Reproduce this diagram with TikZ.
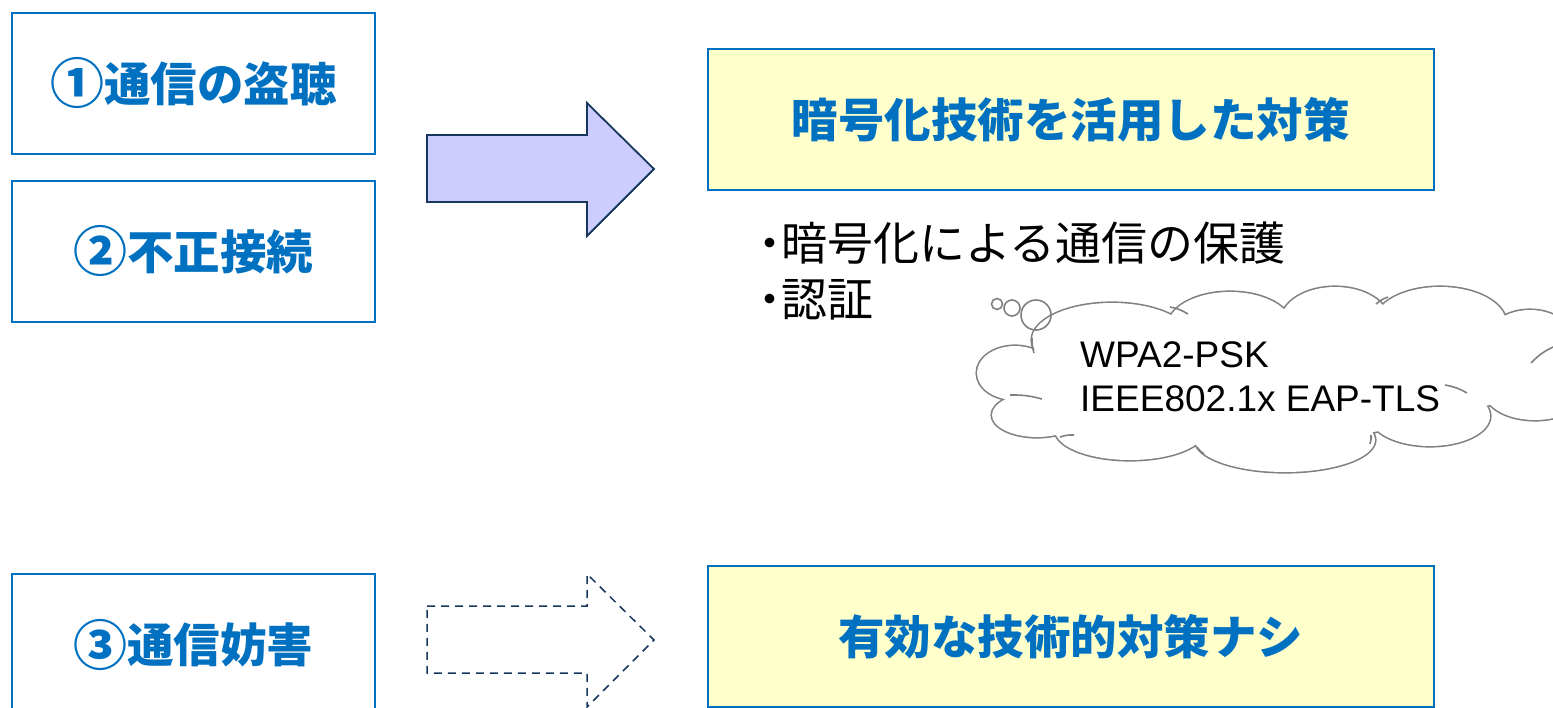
\documentclass[tikz,border=0pt]{standalone}
\usepackage{fontspec}
\setmainfont{Liberation Sans}
\newfontfamily\jp{Noto Sans CJK JP}
\definecolor{boxblue}{RGB}{0,112,192}
\definecolor{txtblue}{RGB}{0,112,192}
\definecolor{paleyellow}{RGB}{255,255,204}
\definecolor{arrowfill}{RGB}{204,204,255}
\definecolor{navy}{RGB}{23,55,94}
\definecolor{cloudgray}{RGB}{128,128,128}
\newcommand{\circnum}[1]{\raisebox{-0.06em}{\scalebox{1.16}{#1}}}
\begin{document}
\begin{tikzpicture}[x=1pt,y=-1pt,
  probbox/.style={draw=boxblue, line width=1.8pt, fill=white, inner sep=0pt,
    minimum width=363pt, minimum height=141pt, anchor=north west,
    text=txtblue, font=\jp\bfseries\fontsize{46.5}{55}\selectfont},
  measurebox/.style={draw=boxblue, line width=1.8pt, fill=paleyellow, inner sep=0pt,
    minimum width=726pt, minimum height=141pt, anchor=north west,
    text=txtblue, font=\jp\bfseries\fontsize{46.5}{55}\selectfont},
  blockarrow/.style={draw=navy, line width=1.8pt, fill=arrowfill, line join=miter},
  dasharrow/.style={draw=navy, line width=1.5pt, dash pattern=on 8pt off 6pt},
  bullettext/.style={anchor=west, inner sep=0pt, font=\jp\fontsize{46}{55}\selectfont},
  cloudtext/.style={anchor=base west, inner sep=0pt, font=\fontsize{37}{44}\selectfont},
  cloudline/.style={draw=cloudgray, line width=1.6pt}]
\useasboundingbox (0,0) rectangle (1553,707);

% problem boxes
\node[probbox] (p1) at (11,12) {\circnum{①}通信の盗聴};
\node[probbox] (p2) at (11,180) {\circnum{②}不正接続};
\node[probbox, minimum height=142pt] (p3) at (11,573) {\circnum{③}通信妨害};

% measure boxes
\node[measurebox] (m1) at (707,48) {暗号化技術を活用した対策};
\node[measurebox] (m2) at (707,565) {有効な技術的対策ナシ};

% block arrows
\draw[blockarrow] (427,135) -- (587,135) -- (587,103) -- (654,169) -- (587,236)
  -- (587,202) -- (427,202) -- cycle;
\draw[dasharrow] (427,606) -- (587,606) -- (587,574) -- (654,640) -- (587,707)
  -- (587,673) -- (427,673) -- cycle;

% bullet text
\node[bullettext] (b1) at (758,243) {{\bfseries ･}暗号化による通信の保護};
\node[bullettext] (b2) at (758,300) {{\bfseries ･}認証};

% cloud: union of ellipses
\def\cloudlobes{%
  (1015,373) ellipse [x radius=38, y radius=27]
  (1037,415) ellipse [x radius=45, y radius=22]
  (1112,340) ellipse [x radius=80, y radius=37]
  (1230,326) ellipse [x radius=62, y radius=34]
  (1335,321) ellipse [x radius=54, y radius=34]
  (1440,323) ellipse [x radius=66, y radius=36]
  (1530,352) ellipse [x radius=50, y radius=42]
  (1535,392) ellipse [x radius=50, y radius=28]
  (1430,416) ellipse [x radius=60, y radius=30]
  (1285,440) ellipse [x radius=90, y radius=32]
  (1130,430) ellipse [x radius=75, y radius=30]
  (1470,368) ellipse [x radius=50, y radius=40]
  (1260,378) ellipse [x radius=230, y radius=62]}
\draw[cloudgray, line width=3.2pt] \cloudlobes;
\fill[white] \cloudlobes;

% inner hooks of the cloud
\draw[cloudline] (1032,338) to[bend right=10] (1034,353);
\draw[cloudline] (1010,395) to[bend left=8] (1042,399);
\draw[cloudline] (1060,437) to[bend left=10] (1074,435);
\draw[cloudline] (1197,447) to[bend right=10] (1204,454);
\draw[cloudline] (1170,307) to[bend left=10] (1188,314);
\draw[cloudline] (1376,304) to[bend left=10] (1388,297);
\draw[cloudline] (1531,363) to[bend left=10] (1553,347);
\draw[cloudline] (1445,385) to[bend left=10] (1467,393);
\draw[cloudline] (1371,435) to[bend left=10] (1370,444);

% thought bubbles
\draw[cloudline] (997,304) circle [radius=5.5];
\draw[cloudline] (1012,308) circle [radius=8];
\draw[cloudline] (1036,315) circle [radius=15];

% cloud text
\node[cloudtext] (c1) at (1080,367) {WPA2-PSK};
\node[cloudtext] (c2) at (1080,411) {IEEE802.1x EAP-TLS};
\end{tikzpicture}
\end{document}
